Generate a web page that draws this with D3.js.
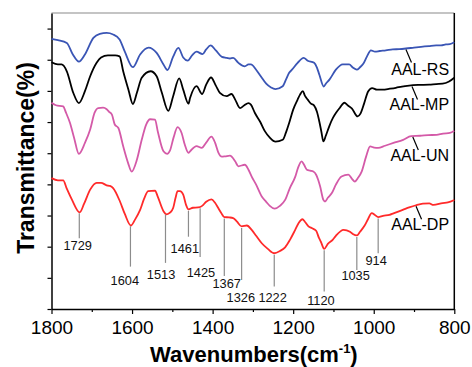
<!DOCTYPE html>
<html>
<head>
<meta charset="utf-8">
<script src="https://cdn.jsdelivr.net/npm/d3@7"></script>
<style>
  body { margin: 0; background: #fff; }
  svg { display: block; font-family: Arial, "Liberation Sans", sans-serif; }
</style>
</head>
<body>
<div id="chart"></div>
<script>
// [wavenumber, transmittance (offset, a.u.)]
const aalRS = [
  [1800,8.67],[1784,8.63],[1762,8.54],[1747,8.17],[1732,7.94],[1717,8.17],[1696,8.70],[1680,8.83],
  [1663,8.86],[1647,8.81],[1631,8.65],[1618,8.26],[1598,7.76],[1580,8.17],[1559,8.39],[1539,8.22],
  [1522,7.85],[1512,7.67],[1498,8.10],[1485,8.38],[1473,8.07],[1462,7.97],[1451,8.14],[1440,8.26],
  [1425,8.18],[1416,8.33],[1405,8.46],[1392,8.30],[1377,8.09],[1365,8.06],[1357,8.04],[1349,8.06],
  [1336,7.90],[1320,7.79],[1311,7.85],[1305,7.85],[1292,7.68],[1280,7.46],[1267,7.23],[1255,7.11],
  [1244,7.06],[1226,7.15],[1218,7.36],[1210,7.58],[1203,7.68],[1189,7.90],[1174,8.06],[1164,7.97],
  [1148,7.90],[1141,7.75],[1135,7.52],[1124,7.14],[1119,7.23],[1110,7.36],[1094,7.68],[1077,7.85],
  [1061,7.85],[1052,7.75],[1042,7.68],[1034,7.76],[1026,7.87],[1017,8.10],[1007,8.30],[997,8.26],
  [985,8.28],[970,8.30],[953,8.33],[937,8.34],[920,8.36],[900,8.39],[878,8.42],[863,8.44],
  [845,8.46],[833,8.46],[821,8.49],[811,8.50],[800,8.56]
];
const aalMP = [
  [1800,7.92],[1784,7.85],[1775,7.85],[1762,7.63],[1746,6.94],[1732,6.61],[1717,6.99],[1704,7.47],
  [1688,7.90],[1677,8.07],[1660,8.14],[1642,8.14],[1631,8.11],[1622,7.63],[1609,7.04],[1598,6.58],
  [1588,6.94],[1576,7.42],[1554,7.63],[1539,7.47],[1526,6.94],[1510,6.36],[1498,6.83],[1483,7.40],
  [1473,7.04],[1460,6.59],[1456,6.77],[1440,7.15],[1426,6.90],[1416,7.20],[1404,7.43],[1392,7.17],
  [1382,6.94],[1365,6.83],[1353,6.90],[1344,6.72],[1332,6.45],[1322,6.53],[1311,6.61],[1305,6.56],
  [1295,6.29],[1282,6.01],[1270,5.70],[1258,5.50],[1244,5.37],[1226,5.43],[1218,5.66],[1210,5.97],
  [1200,6.40],[1189,6.72],[1183,6.88],[1176,6.99],[1171,6.85],[1164,6.72],[1156,6.59],[1148,6.53],
  [1141,6.33],[1135,6.01],[1130,5.69],[1125,5.38],[1119,5.56],[1110,5.88],[1101,6.14],[1094,6.29],
  [1084,6.46],[1073,6.62],[1064,6.53],[1054,6.43],[1040,6.18],[1033,6.27],[1024,6.59],[1014,6.98],
  [1004,7.09],[992,7.04],[978,7.04],[960,7.07],[945,7.10],[930,7.14],[912,7.17],[890,7.19],
  [862,7.20],[845,7.22],[829,7.23],[813,7.30],[800,7.42]
];
const aalUN = [
  [1800,6.62],[1789,6.54],[1771,6.50],[1764,6.30],[1754,5.97],[1744,5.50],[1732,4.98],[1717,5.33],
  [1704,5.76],[1693,6.30],[1684,6.45],[1672,6.46],[1663,6.41],[1657,6.33],[1650,6.24],[1643,5.92],
  [1634,5.81],[1622,5.22],[1610,4.69],[1601,4.41],[1588,4.79],[1576,5.43],[1565,5.92],[1555,6.09],
  [1543,6.08],[1536,5.69],[1522,5.06],[1513,4.98],[1506,5.08],[1497,5.50],[1487,5.84],[1477,5.65],
  [1469,5.27],[1460,5.01],[1456,5.06],[1440,5.23],[1427,5.17],[1416,5.34],[1403,5.53],[1394,5.34],
  [1386,5.03],[1377,4.89],[1369,4.90],[1357,4.92],[1344,4.74],[1336,4.58],[1320,4.63],[1311,4.47],
  [1303,4.25],[1292,3.99],[1278,3.61],[1267,3.44],[1258,3.31],[1246,3.22],[1233,3.31],[1220,3.50],
  [1208,3.89],[1195,4.24],[1188,4.53],[1179,4.74],[1173,4.63],[1166,4.47],[1158,4.44],[1150,4.41],
  [1143,4.31],[1138,4.15],[1133,3.93],[1125,3.50],[1121,3.45],[1114,3.57],[1104,3.72],[1094,3.99],
  [1080,4.25],[1063,4.31],[1054,4.18],[1047,4.09],[1039,4.21],[1030,4.41],[1019,4.89],[1009,5.22],
  [999,5.18],[989,5.17],[972,5.24],[951,5.33],[927,5.43],[907,5.55],[885,5.56],[865,5.58],
  [844,5.59],[828,5.63],[811,5.65],[800,5.72]
];
const aalDP = [
  [1800,4.20],[1784,4.13],[1771,4.13],[1762,3.86],[1749,3.50],[1730,3.10],[1719,3.38],[1704,3.83],
  [1688,4.05],[1677,4.05],[1663,3.97],[1655,3.95],[1647,3.88],[1630,3.45],[1618,3.05],[1603,2.68],
  [1593,2.86],[1580,3.18],[1570,3.54],[1560,3.78],[1543,3.80],[1536,3.60],[1522,3.14],[1514,3.04],
  [1506,3.09],[1498,3.24],[1492,3.57],[1487,3.78],[1481,3.78],[1473,3.67],[1466,3.34],[1460,3.20],
  [1449,3.25],[1436,3.26],[1426,3.31],[1416,3.44],[1403,3.52],[1394,3.41],[1386,3.24],[1379,3.09],
  [1371,2.95],[1359,2.94],[1349,2.92],[1340,2.81],[1328,2.65],[1315,2.68],[1303,2.54],[1292,2.35],
  [1278,2.11],[1263,1.93],[1247,1.79],[1233,1.86],[1220,1.98],[1208,2.22],[1195,2.54],[1186,2.77],
  [1177,2.88],[1171,2.80],[1162,2.65],[1153,2.59],[1143,2.51],[1136,2.28],[1131,2.15],[1123,1.93],
  [1114,2.09],[1102,2.22],[1094,2.35],[1075,2.54],[1059,2.48],[1052,2.41],[1042,2.36],[1034,2.48],
  [1023,2.67],[1014,2.89],[1005,3.08],[997,3.02],[989,2.95],[977,2.99],[961,3.02],[951,3.07],
  [928,3.18],[912,3.26],[895,3.33],[878,3.38],[862,3.39],[852,3.34],[829,3.40],[816,3.42],[800,3.50]
];

const seriesNames = ['AAL-RS', 'AAL-MP', 'AAL-UN', 'AAL-DP'];
const seriesColors = ['#3a55b5', '#000000', '#d45aa8', '#ff2a2a'];
const seriesLabelY = [7.52, 6.40, 4.76, 2.54];
const seriesLeaderWn = [920, 905, 903, 895];

// peak markers on AAL-DP
const peakPos = [1731, 1604, 1517, 1460, 1431, 1371, 1328, 1247, 1123, 1042, 989];
const peakLabels = ['1729', '1604', '1513', '1461', '1425', '1367', '1326', '1222', '1120', '1035', '914'];
const peakLabelWn = [1735, 1618, 1528, 1469, 1429, 1365, 1330, 1251, 1131, 1045, 994];
const peakLabelY = [1.90, 0.77, 0.96, 1.81, 1.02, 0.66, 0.24, 0.24, 0.13, 0.93, 1.41];
const peakLineEnd = [2.27, 1.36, 1.48, 2.32, 1.67, 1.06, 0.93, 0.72, 0.56, 1.25, 1.79];

const xTicks = [1800, 1600, 1400, 1200, 1000, 800];
const xMinorTicks = [1700, 1500, 1300, 1100, 900];
const yTicks = [0, 1, 2, 3, 4, 5, 6, 7, 8, 9];

const allSeries = [aalRS, aalMP, aalUN, aalDP];

const W = 472, H = 367;
const margin = { top: 13, right: 17.7, bottom: 58, left: 51.5 };
const width = W - margin.left - margin.right;
const height = H - margin.top - margin.bottom;

const svg = d3.select('#chart')
  .append('svg')
  .attr('width', W)
  .attr('height', H)
  .append('g')
  .attr('transform', `translate(${margin.left},${margin.top})`);

const x = d3.scaleLinear().domain([1800, 800]).range([0, width]);
const y = d3.scaleLinear().domain([0, 9.5]).range([height, 0]);

// value of a series at a wavenumber (data sorted high -> low)
function valueAt(data, wn) {
  for (let i = 0; i < data.length - 1; i++) {
    const a = data[i], b = data[i + 1];
    if (wn <= a[0] && wn >= b[0]) {
      const t = (a[0] - wn) / (a[0] - b[0]);
      return a[1] + t * (b[1] - a[1]);
    }
  }
  return data[data.length - 1][1];
}

// frame: gray top, black right
svg.append('line')
  .attr('x1', 0).attr('x2', width).attr('y1', 0).attr('y2', 0)
  .attr('stroke', '#8a8a8a').attr('stroke-width', 1.2);
svg.append('line')
  .attr('x1', width).attr('x2', width).attr('y1', 0).attr('y2', height)
  .attr('stroke', '#000').attr('stroke-width', 1.5);

// Axes
svg.append('g')
  .attr('transform', `translate(0,${height})`)
  .call(d3.axisBottom(x).tickValues(xMinorTicks).tickSize(3).tickFormat(''))
  .call(g => g.select('.domain').remove())
  .call(g => g.selectAll('.tick line').attr('stroke', '#000').attr('stroke-width', 1.2));

svg.append('g')
  .attr('transform', `translate(0,${height})`)
  .call(d3.axisBottom(x).tickValues(xTicks).tickSize(5).tickPadding(7).tickSizeOuter(0).tickFormat(d3.format('d')))
  .call(g => g.select('.domain').attr('stroke', '#000').attr('stroke-width', 1.5))
  .call(g => g.selectAll('.tick line').attr('stroke', '#000').attr('stroke-width', 1.2))
  .call(g => g.selectAll('.tick text').attr('fill', '#000').style('font-size', '19px'));

svg.append('g')
  .call(d3.axisLeft(y).tickValues(yTicks).tickSize(4).tickSizeOuter(0).tickFormat(''))
  .call(g => g.select('.domain').attr('stroke', '#000').attr('stroke-width', 1.5))
  .call(g => g.selectAll('.tick line').attr('stroke', '#000').attr('stroke-width', 1.2));

// Axis titles
const xTitle = svg.append('text')
  .attr('text-anchor', 'middle')
  .attr('x', width / 2 + 1)
  .attr('y', height + 53)
  .style('font-size', '22px')
  .style('font-weight', 'bold')
  .attr('fill', '#000');
xTitle.append('tspan').text('Wavenumbers(cm');
xTitle.append('tspan').text('-1').attr('dy', -9).style('font-size', '13px');
xTitle.append('tspan').text(')').attr('dy', 9);

svg.append('text')
  .attr('text-anchor', 'middle')
  .attr('transform', 'rotate(-90)')
  .attr('x', -(height / 2) + 3)
  .attr('y', -18)
  .text('Transmittance(%)')
  .style('font-size', '23px')
  .style('font-weight', 'bold')
  .attr('fill', '#000');

// Spectra
const line = d3.line()
  .x(d => x(d[0]))
  .y(d => y(d[1]))
  .curve(d3.curveMonotoneX);

allSeries.forEach((data, i) => {
  svg.append('path')
    .datum(data)
    .attr('fill', 'none')
    .attr('stroke', seriesColors[i])
    .attr('stroke-width', 1.8)
    .attr('stroke-linejoin', 'round')
    .attr('d', line);

  // leader + name
  const lw = seriesLeaderWn[i];
  const ly = y(valueAt(data, lw));
  svg.append('line')
    .attr('x1', x(lw)).attr('y1', ly + 1)
    .attr('x2', x(lw) + 5.5).attr('y2', ly + 14)
    .attr('stroke', '#000').attr('stroke-width', 1.2);

  svg.append('text')
    .attr('text-anchor', 'end')
    .attr('x', x(813))
    .attr('y', y(seriesLabelY[i]))
    .text(seriesNames[i])
    .style('font-size', '16px')
    .attr('fill', '#000');
});

// Peak markers
peakPos.forEach((wn, i) => {
  svg.append('line')
    .attr('x1', x(wn)).attr('x2', x(wn))
    .attr('y1', y(valueAt(aalDP, wn)) + 1.5)
    .attr('y2', y(peakLineEnd[i]))
    .attr('stroke', '#8c8c8c')
    .attr('stroke-width', 1.2);

  svg.append('text')
    .attr('text-anchor', 'middle')
    .attr('x', x(peakLabelWn[i]))
    .attr('y', y(peakLabelY[i]))
    .text(peakLabels[i])
    .style('font-size', '12.8px')
    .attr('fill', '#111');
});
</script>
</body>
</html>
